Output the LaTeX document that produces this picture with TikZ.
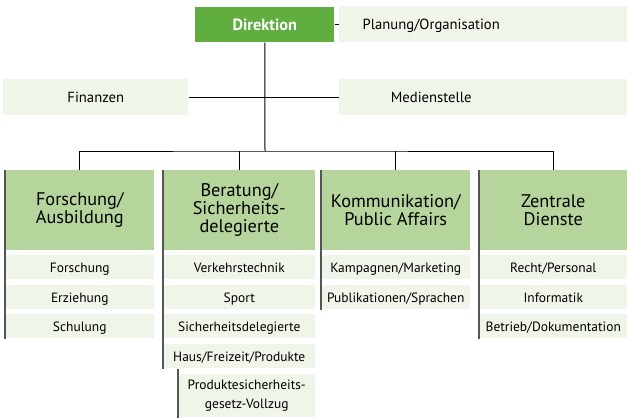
\documentclass[tikz,border=0pt]{standalone}
\usepackage{fontspec}
\setmainfont{PT Sans}
\usepackage{xcolor}
\usepackage{tikz}

\definecolor{dirgreen}{RGB}{96,173,64}
\definecolor{headgreen}{RGB}{181,213,157}
\definecolor{palegreen}{RGB}{239,245,233}
\definecolor{bargray}{RGB}{85,85,85}

\newcommand{\stafftext}[1]{\makebox[138pt]{#1}}

\begin{document}
\begin{tikzpicture}[x=0.75pt,y=0.75pt,yscale=-1,xscale=1,
	dirbox/.style={fill=dirgreen,text=white,font=\bfseries\fontsize{12.2}{14}\selectfont,inner sep=0pt,anchor=north west,minimum width=#1*0.75pt,minimum height=26.25pt},
	staffbox/.style={fill=palegreen,font=\fontsize{11}{13}\selectfont,inner sep=0pt,text height=8pt,text depth=0pt,anchor=north west,minimum width=#1*0.75pt,minimum height=27pt},
	headbox/.style={fill=headgreen,font=\fontsize{13.7}{13.6}\selectfont,align=center,inner sep=0pt,anchor=north west,minimum width=#1*0.75pt,minimum height=60pt},
	subbox/.style={fill=palegreen,font=\fontsize{10.1}{14.2}\selectfont,align=center,inner sep=0pt,text height=7.2pt,text depth=0pt,anchor=north west,minimum width=#1*0.75pt,minimum height=18pt},
	link/.style={draw=black,line width=0.75pt},
	leftbar/.style={draw=bargray,line width=1.1pt}]
	\useasboundingbox (0,0) rectangle (627,417);
	
	%Shape: Rectangle [Direktion]
	\node[dirbox=139] (dir) at (195,7) {Direktion};
	%Shape: Rectangle [Stab] -- runs out at the right edge
	\node[staffbox=288,text width=216pt,align=left] (plan) at (339,6) {\stafftext{Planung/Organisation}};
	\node[staffbox=185] (fin) at (3,79) {Finanzen};
	\node[staffbox=288,text width=216pt,align=left] (med) at (339,79) {\stafftext{Medienstelle}};
	
	%Shape: Rectangle [Abteilungen]
	\node[headbox=149] (hA) at (5,170) {Forschung/\\Ausbildung};
	\node[headbox=152] (hB) at (163,170) {Beratung/\\Sicherheits-\\delegierte};
	\node[headbox=149] (hC) at (321,170) {Kommunikation/\\Public Affairs};
	\node[headbox=148] (hD) at (479,170) {Zentrale\\Dienste};
	
	% Text Node
	\node[subbox=149] (sA1) at (5,255) {Forschung};
	\node[subbox=149] (sA2) at (5,285) {Erziehung};
	\node[subbox=149] (sA3) at (5,314) {Schulung};
	
	\node[subbox=152] (sB1) at (163,255) {Verkehrstechnik};
	\node[subbox=152] (sB2) at (163,285) {Sport};
	\node[subbox=152] (sB3) at (163,314) {Sicherheitsdelegierte};
	\node[subbox=152] (sB4) at (163,344) {Haus/Freizeit/Produkte};
	\node[subbox=137,text height=,text depth=,minimum height=32.25pt] (prod) at (178,374) {Produktesicherheits-\\gesetz-Vollzug};
	
	\node[subbox=149] (sC1) at (321,255) {Kampagnen/Marketing};
	\node[subbox=149] (sC2) at (321,285) {Publikationen/Sprachen};
	
	\node[subbox=148] (sD1) at (479,255) {Recht/Personal};
	\node[subbox=148] (sD2) at (479,285) {Informatik};
	\node[subbox=148] (sD3) at (479,314) {Betrieb/Dokumentation};
	
	%Straight Lines
	\coordinate (bus) at (265,151);
	\draw[link] (dir.east) -- (dir.east -| plan.west);
	\draw[link] (fin.east) -- (med.west);
	\draw[link] (dir.south) -- (bus);
	\draw[link] (hA.north) |- (bus) -| (hD.north);
	\draw[link] (hB.north) -- (hB.north |- bus);
	\draw[link] (hC.north) -- (hC.north |- bus);
	
	%Straight Lines [left bars]
	\draw[leftbar] (hA.north west) -- (sA3.south west);
	\draw[leftbar] (hB.north west) -- (sB4.south west);
	\draw[leftbar] (prod.west |- sB4.south) -- (prod.south west);
	\draw[leftbar] (hC.north west) -- (sC2.south west);
	\draw[leftbar] (hD.north west) -- (sD3.south west);
	
\end{tikzpicture}
\end{document}
